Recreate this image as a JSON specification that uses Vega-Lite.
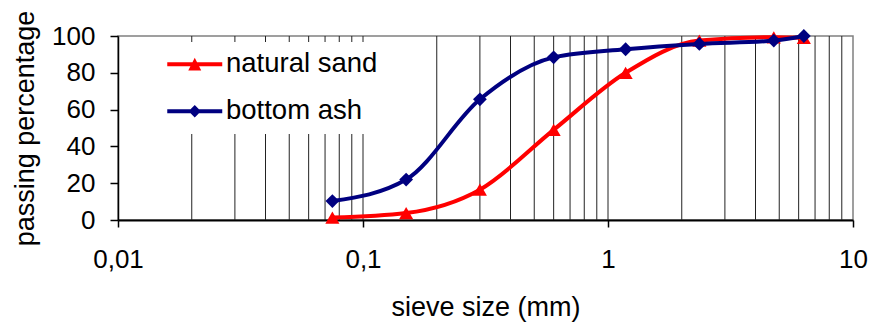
{
  "$schema": "https://vega.github.io/schema/vega-lite/v6.json",
  "width": 735,
  "height": 184,
  "autosize": {"type": "none"},
  "padding": {"left": 118, "top": 36, "right": 18, "bottom": 102},
  "background": "white",
  "config": {
    "font": "Liberation Sans",
    "view": {"stroke": "#808080", "strokeWidth": 1.5},
    "legend": {
      "orient": "none",
      "legendX": 32,
      "legendY": 6,
      "padding": 8.5,
      "fillColor": "white",
      "labelFont": "Liberation Sans",
      "labelFontSize": 27.5,
      "labelColor": "black",
      "rowPadding": 18,
      "symbolSize": 169,
      "symbolOffset": 22.5,
      "labelOffset": 17.5,
      "symbolStrokeWidth": 0,
      "title": null
    }
  },
  "datasets": {
    "sieve": [
      {"x": 0.075, "pct": 1.3, "series": "natural sand"},
      {"x": 0.15, "pct": 3.8, "series": "natural sand"},
      {"x": 0.3, "pct": 16.5, "series": "natural sand"},
      {"x": 0.6, "pct": 49, "series": "natural sand"},
      {"x": 1.18, "pct": 80, "series": "natural sand"},
      {"x": 2.36, "pct": 97.5, "series": "natural sand"},
      {"x": 4.75, "pct": 99.3, "series": "natural sand"},
      {"x": 6.3, "pct": 99, "series": "natural sand"},
      {"x": 0.075, "pct": 10.3, "series": "bottom ash"},
      {"x": 0.15, "pct": 22, "series": "bottom ash"},
      {"x": 0.3, "pct": 65.6, "series": "bottom ash"},
      {"x": 0.6, "pct": 88.4, "series": "bottom ash"},
      {"x": 1.18, "pct": 92.8, "series": "bottom ash"},
      {"x": 2.36, "pct": 95.7, "series": "bottom ash"},
      {"x": 4.75, "pct": 97.5, "series": "bottom ash"},
      {"x": 6.3, "pct": 100, "series": "bottom ash"}
    ],
    "grid": [
      {"x": 0.02}, {"x": 0.03}, {"x": 0.04}, {"x": 0.05}, {"x": 0.06}, {"x": 0.07}, {"x": 0.08}, {"x": 0.09},
      {"x": 0.1}, {"x": 0.2}, {"x": 0.3}, {"x": 0.4}, {"x": 0.5}, {"x": 0.6}, {"x": 0.7}, {"x": 0.8}, {"x": 0.9},
      {"x": 1}, {"x": 2}, {"x": 3}, {"x": 4}, {"x": 5}, {"x": 6}, {"x": 7}, {"x": 8}, {"x": 9}
    ]
  },
  "encoding": {
    "x": {
      "field": "x",
      "type": "quantitative",
      "scale": {"type": "log", "domain": [0.01, 10]},
      "axis": {
        "values": [0.01, 0.1, 1, 10],
        "labelExpr": "replace(format(datum.value, '~g'), '.', ',')",
        "grid": false,
        "domainColor": "black",
        "domainWidth": 2,
        "tickColor": "black",
        "tickWidth": 1.5,
        "tickSize": 7,
        "labelFont": "Liberation Sans",
        "labelFontSize": 26,
        "labelColor": "black",
        "labelPadding": 19,
        "labelFlush": false,
        "labelOverlap": false,
        "title": "sieve size (mm)",
        "titleFont": "Liberation Sans",
        "titleFontSize": 27,
        "titleFontWeight": "normal",
        "titleColor": "black",
        "titleX": 367.5,
        "titleY": 95,
        "titleBaseline": "alphabetic",
        "titleAlign": "center"
      }
    }
  },
  "layer": [
    {
      "data": {"name": "grid"},
      "mark": {"type": "rule", "color": "#222222", "strokeWidth": 1},
      "encoding": {}
    },
    {
      "data": {"name": "sieve"},
      "encoding": {
        "y": {
          "field": "pct",
          "type": "quantitative",
          "scale": {"domain": [0, 100], "nice": false, "zero": true},
          "axis": {
            "values": [0, 20, 40, 60, 80, 100],
            "grid": false,
            "domainColor": "black",
            "domainWidth": 1.5,
            "tickColor": "black",
            "tickWidth": 1.5,
            "tickSize": 8,
            "labelFont": "Liberation Sans",
            "labelFontSize": 26,
            "labelColor": "black",
            "labelPadding": 15,
            "labelOverlap": false,
            "title": "passing percentage",
            "titleFont": "Liberation Sans",
            "titleFontSize": 27,
            "titleFontWeight": "normal",
            "titleColor": "black",
            "titleAngle": -90,
            "titleX": -85,
            "titleY": 92,
            "titleBaseline": "alphabetic",
            "titleAlign": "center"
          }
        },
        "color": {
          "field": "series",
          "type": "nominal",
          "scale": {"domain": ["natural sand", "bottom ash"], "range": ["#FF0000", "#000080"]},
          "legend": {
            "encode": {
              "symbols": {
                "update": {
                  "shape": {"signal": "datum.value === 'natural sand' ? 'M-4.23,-0.3H4.23V0.3H-4.23Z M0,-1L1,0.95L-1,0.95Z' : 'M-4.23,-0.3H4.23V0.3H-4.23Z M0,-0.95L0.95,0L0,0.95L-0.95,0Z'"},
                  "fill": {"signal": "datum.value === 'natural sand' ? '#FF0000' : '#000080'"},
                  "stroke": {"value": "transparent"},
                  "strokeWidth": {"value": 0},
                  "size": {"value": 169},
                  "opacity": {"value": 1}
                }
              }
            }
          }
        }
      },
      "layer": [
        {
          "transform": [{"filter": "datum.series === 'natural sand'"}],
          "mark": {"type": "line", "interpolate": "monotone", "strokeWidth": 4}
        },
        {
          "transform": [{"filter": "datum.series === 'natural sand'"}],
          "mark": {"type": "point", "shape": "triangle-up", "filled": true, "size": 200, "opacity": 1, "strokeWidth": 0}
        },
        {
          "transform": [{"filter": "datum.series === 'bottom ash'"}],
          "mark": {"type": "line", "interpolate": "monotone", "strokeWidth": 4}
        },
        {
          "transform": [{"filter": "datum.series === 'bottom ash'"}],
          "mark": {"type": "point", "shape": "diamond", "filled": true, "size": 190, "opacity": 1, "strokeWidth": 0}
        }
      ]
    }
  ]
}
